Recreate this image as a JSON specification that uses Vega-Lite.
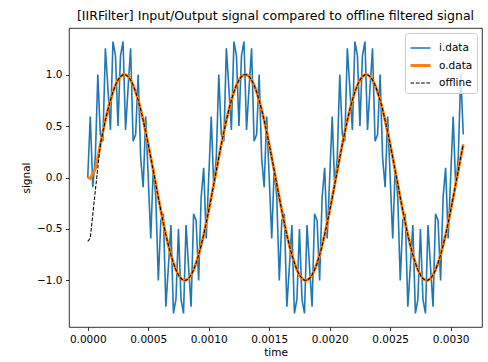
{
  "$schema": "https://vega.github.io/schema/vega-lite/v6.json",
  "width": 413,
  "height": 299,
  "autosize": {"type": "none"},
  "padding": {"left": 69, "top": 28, "right": 6, "bottom": 35},
  "background": "white",
  "title": {"text": "[IIRFilter] Input/Output signal compared to offline filtered signal", "font": "DejaVu Sans", "fontSize": 12.5, "fontWeight": "normal", "color": "black", "anchor": "middle", "offset": 6},
  "config": {
    "font": "DejaVu Sans",
    "view": {"stroke": "black", "strokeWidth": 0.8},
    "axis": {"grid": false, "domain": false, "tickColor": "black", "tickSize": 3.5, "tickWidth": 0.8, "labelColor": "black", "labelFontSize": 10.5, "labelFont": "DejaVu Sans", "labelPadding": 3.5, "titleFont": "DejaVu Sans", "titleFontSize": 10.5, "titleFontWeight": "normal", "titleColor": "black"}
  },
  "data": {"values": [
    {"t":0,"i":0,"o":0,"f":-0.62},
    {"t":0.0000208,"i":0.593,"o":-0.01,"f":-0.59},
    {"t":0.0000417,"i":-0.095,"o":0.04,"f":-0.36},
    {"t":0.0000625,"i":0.191,"o":0.08,"f":-0.13},
    {"t":0.0000833,"i":1.0,"o":0.195,"f":0.1},
    {"t":0.0001042,"i":0.417,"o":0.321,"f":0.321},
    {"t":0.000125,"i":0.353,"o":0.442,"f":0.442},
    {"t":0.0001458,"i":1.255,"o":0.556,"f":0.556},
    {"t":0.0001667,"i":0.866,"o":0.659,"f":0.659},
    {"t":0.0001875,"i":0.462,"o":0.752,"f":0.752},
    {"t":0.0002083,"i":1.32,"o":0.831,"f":0.831},
    {"t":0.0002292,"i":1.183,"o":0.897,"f":0.897},
    {"t":0.00025,"i":0.5,"o":0.947,"f":0.947},
    {"t":0.0002708,"i":1.183,"o":0.981,"f":0.981},
    {"t":0.0002917,"i":1.32,"o":0.998,"f":0.998},
    {"t":0.0003125,"i":0.462,"o":0.998,"f":0.998},
    {"t":0.0003333,"i":0.866,"o":0.981,"f":0.981},
    {"t":0.0003542,"i":1.255,"o":0.947,"f":0.947},
    {"t":0.000375,"i":0.353,"o":0.897,"f":0.897},
    {"t":0.0003958,"i":0.417,"o":0.831,"f":0.831},
    {"t":0.0004167,"i":1.0,"o":0.752,"f":0.752},
    {"t":0.0004375,"i":0.191,"o":0.659,"f":0.659},
    {"t":0.0004583,"i":-0.095,"o":0.556,"f":0.556},
    {"t":0.0004792,"i":0.593,"o":0.442,"f":0.442},
    {"t":0.0005,"i":0,"o":0.321,"f":0.321},
    {"t":0.0005208,"i":-0.593,"o":0.195,"f":0.195},
    {"t":0.0005417,"i":0.095,"o":0.065,"f":0.065},
    {"t":0.0005625,"i":-0.191,"o":-0.065,"f":-0.065},
    {"t":0.0005833,"i":-1.0,"o":-0.195,"f":-0.195},
    {"t":0.0006042,"i":-0.417,"o":-0.321,"f":-0.321},
    {"t":0.000625,"i":-0.353,"o":-0.442,"f":-0.442},
    {"t":0.0006458,"i":-1.255,"o":-0.556,"f":-0.556},
    {"t":0.0006667,"i":-0.866,"o":-0.659,"f":-0.659},
    {"t":0.0006875,"i":-0.462,"o":-0.752,"f":-0.752},
    {"t":0.0007083,"i":-1.32,"o":-0.831,"f":-0.831},
    {"t":0.0007292,"i":-1.183,"o":-0.897,"f":-0.897},
    {"t":0.00075,"i":-0.5,"o":-0.947,"f":-0.947},
    {"t":0.0007708,"i":-1.183,"o":-0.981,"f":-0.981},
    {"t":0.0007917,"i":-1.32,"o":-0.998,"f":-0.998},
    {"t":0.0008125,"i":-0.462,"o":-0.998,"f":-0.998},
    {"t":0.0008333,"i":-0.866,"o":-0.981,"f":-0.981},
    {"t":0.0008542,"i":-1.255,"o":-0.947,"f":-0.947},
    {"t":0.000875,"i":-0.353,"o":-0.897,"f":-0.897},
    {"t":0.0008958,"i":-0.417,"o":-0.831,"f":-0.831},
    {"t":0.0009167,"i":-1.0,"o":-0.752,"f":-0.752},
    {"t":0.0009375,"i":-0.191,"o":-0.659,"f":-0.659},
    {"t":0.0009583,"i":0.095,"o":-0.556,"f":-0.556},
    {"t":0.0009792,"i":-0.593,"o":-0.442,"f":-0.442},
    {"t":0.001,"i":0,"o":-0.321,"f":-0.321},
    {"t":0.0010208,"i":0.593,"o":-0.195,"f":-0.195},
    {"t":0.0010417,"i":-0.095,"o":-0.065,"f":-0.065},
    {"t":0.0010625,"i":0.191,"o":0.065,"f":0.065},
    {"t":0.0010833,"i":1.0,"o":0.195,"f":0.195},
    {"t":0.0011042,"i":0.417,"o":0.321,"f":0.321},
    {"t":0.001125,"i":0.353,"o":0.442,"f":0.442},
    {"t":0.0011458,"i":1.255,"o":0.556,"f":0.556},
    {"t":0.0011667,"i":0.866,"o":0.659,"f":0.659},
    {"t":0.0011875,"i":0.462,"o":0.752,"f":0.752},
    {"t":0.0012083,"i":1.32,"o":0.831,"f":0.831},
    {"t":0.0012292,"i":1.183,"o":0.897,"f":0.897},
    {"t":0.00125,"i":0.5,"o":0.947,"f":0.947},
    {"t":0.0012708,"i":1.183,"o":0.981,"f":0.981},
    {"t":0.0012917,"i":1.32,"o":0.998,"f":0.998},
    {"t":0.0013125,"i":0.462,"o":0.998,"f":0.998},
    {"t":0.0013333,"i":0.866,"o":0.981,"f":0.981},
    {"t":0.0013542,"i":1.255,"o":0.947,"f":0.947},
    {"t":0.001375,"i":0.353,"o":0.897,"f":0.897},
    {"t":0.0013958,"i":0.417,"o":0.831,"f":0.831},
    {"t":0.0014167,"i":1.0,"o":0.752,"f":0.752},
    {"t":0.0014375,"i":0.191,"o":0.659,"f":0.659},
    {"t":0.0014583,"i":-0.095,"o":0.556,"f":0.556},
    {"t":0.0014792,"i":0.593,"o":0.442,"f":0.442},
    {"t":0.0015,"i":0,"o":0.321,"f":0.321},
    {"t":0.0015208,"i":-0.593,"o":0.195,"f":0.195},
    {"t":0.0015417,"i":0.095,"o":0.065,"f":0.065},
    {"t":0.0015625,"i":-0.191,"o":-0.065,"f":-0.065},
    {"t":0.0015833,"i":-1.0,"o":-0.195,"f":-0.195},
    {"t":0.0016042,"i":-0.417,"o":-0.321,"f":-0.321},
    {"t":0.001625,"i":-0.353,"o":-0.442,"f":-0.442},
    {"t":0.0016458,"i":-1.255,"o":-0.556,"f":-0.556},
    {"t":0.0016667,"i":-0.866,"o":-0.659,"f":-0.659},
    {"t":0.0016875,"i":-0.462,"o":-0.752,"f":-0.752},
    {"t":0.0017083,"i":-1.32,"o":-0.831,"f":-0.831},
    {"t":0.0017292,"i":-1.183,"o":-0.897,"f":-0.897},
    {"t":0.00175,"i":-0.5,"o":-0.947,"f":-0.947},
    {"t":0.0017708,"i":-1.183,"o":-0.981,"f":-0.981},
    {"t":0.0017917,"i":-1.32,"o":-0.998,"f":-0.998},
    {"t":0.0018125,"i":-0.462,"o":-0.998,"f":-0.998},
    {"t":0.0018333,"i":-0.866,"o":-0.981,"f":-0.981},
    {"t":0.0018542,"i":-1.255,"o":-0.947,"f":-0.947},
    {"t":0.001875,"i":-0.353,"o":-0.897,"f":-0.897},
    {"t":0.0018958,"i":-0.417,"o":-0.831,"f":-0.831},
    {"t":0.0019167,"i":-1.0,"o":-0.752,"f":-0.752},
    {"t":0.0019375,"i":-0.191,"o":-0.659,"f":-0.659},
    {"t":0.0019583,"i":0.095,"o":-0.556,"f":-0.556},
    {"t":0.0019792,"i":-0.593,"o":-0.442,"f":-0.442},
    {"t":0.002,"i":0,"o":-0.321,"f":-0.321},
    {"t":0.0020208,"i":0.593,"o":-0.195,"f":-0.195},
    {"t":0.0020417,"i":-0.095,"o":-0.065,"f":-0.065},
    {"t":0.0020625,"i":0.191,"o":0.065,"f":0.065},
    {"t":0.0020833,"i":1.0,"o":0.195,"f":0.195},
    {"t":0.0021042,"i":0.417,"o":0.321,"f":0.321},
    {"t":0.002125,"i":0.353,"o":0.442,"f":0.442},
    {"t":0.0021458,"i":1.255,"o":0.556,"f":0.556},
    {"t":0.0021667,"i":0.866,"o":0.659,"f":0.659},
    {"t":0.0021875,"i":0.462,"o":0.752,"f":0.752},
    {"t":0.0022083,"i":1.32,"o":0.831,"f":0.831},
    {"t":0.0022292,"i":1.183,"o":0.897,"f":0.897},
    {"t":0.00225,"i":0.5,"o":0.947,"f":0.947},
    {"t":0.0022708,"i":1.183,"o":0.981,"f":0.981},
    {"t":0.0022917,"i":1.32,"o":0.998,"f":0.998},
    {"t":0.0023125,"i":0.462,"o":0.998,"f":0.998},
    {"t":0.0023333,"i":0.866,"o":0.981,"f":0.981},
    {"t":0.0023542,"i":1.255,"o":0.947,"f":0.947},
    {"t":0.002375,"i":0.353,"o":0.897,"f":0.897},
    {"t":0.0023958,"i":0.417,"o":0.831,"f":0.831},
    {"t":0.0024167,"i":1.0,"o":0.752,"f":0.752},
    {"t":0.0024375,"i":0.191,"o":0.659,"f":0.659},
    {"t":0.0024583,"i":-0.095,"o":0.556,"f":0.556},
    {"t":0.0024792,"i":0.593,"o":0.442,"f":0.442},
    {"t":0.0025,"i":0,"o":0.321,"f":0.321},
    {"t":0.0025208,"i":-0.593,"o":0.195,"f":0.195},
    {"t":0.0025417,"i":0.095,"o":0.065,"f":0.065},
    {"t":0.0025625,"i":-0.191,"o":-0.065,"f":-0.065},
    {"t":0.0025833,"i":-1.0,"o":-0.195,"f":-0.195},
    {"t":0.0026042,"i":-0.417,"o":-0.321,"f":-0.321},
    {"t":0.002625,"i":-0.353,"o":-0.442,"f":-0.442},
    {"t":0.0026458,"i":-1.255,"o":-0.556,"f":-0.556},
    {"t":0.0026667,"i":-0.866,"o":-0.659,"f":-0.659},
    {"t":0.0026875,"i":-0.462,"o":-0.752,"f":-0.752},
    {"t":0.0027083,"i":-1.32,"o":-0.831,"f":-0.831},
    {"t":0.0027292,"i":-1.183,"o":-0.897,"f":-0.897},
    {"t":0.00275,"i":-0.5,"o":-0.947,"f":-0.947},
    {"t":0.0027708,"i":-1.183,"o":-0.981,"f":-0.981},
    {"t":0.0027917,"i":-1.32,"o":-0.998,"f":-0.998},
    {"t":0.0028125,"i":-0.462,"o":-0.998,"f":-0.998},
    {"t":0.0028333,"i":-0.866,"o":-0.981,"f":-0.981},
    {"t":0.0028542,"i":-1.255,"o":-0.947,"f":-0.947},
    {"t":0.002875,"i":-0.353,"o":-0.897,"f":-0.897},
    {"t":0.0028958,"i":-0.417,"o":-0.831,"f":-0.831},
    {"t":0.0029167,"i":-1.0,"o":-0.752,"f":-0.752},
    {"t":0.0029375,"i":-0.191,"o":-0.659,"f":-0.659},
    {"t":0.0029583,"i":0.095,"o":-0.556,"f":-0.556},
    {"t":0.0029792,"i":-0.593,"o":-0.442,"f":-0.442},
    {"t":0.003,"i":0,"o":-0.321,"f":-0.321},
    {"t":0.0030208,"i":0.593,"o":-0.195,"f":-0.195},
    {"t":0.0030417,"i":-0.095,"o":-0.065,"f":-0.065},
    {"t":0.0030625,"i":0.191,"o":0.065,"f":0.065},
    {"t":0.0030833,"i":1.0,"o":0.195,"f":0.195},
    {"t":0.0031042,"i":0.417,"o":0.321,"f":0.321}
  ]},
  "transform": [{"fold": ["i", "o", "f"], "as": ["series", "value"]}],
  "mark": {"type": "line", "clip": true},
  "encoding": {
    "x": {"field": "t", "type": "quantitative", "title": "time",
      "scale": {"domain": [-0.000155, 0.003259], "nice": false, "zero": false},
      "axis": {"values": [0, 0.0005, 0.001, 0.0015, 0.002, 0.0025, 0.003], "format": ".4f", "titlePadding": 3}},
    "y": {"field": "value", "type": "quantitative", "title": "signal",
      "scale": {"domain": [-1.452, 1.452], "nice": false, "zero": false},
      "axis": {"values": [-1, -0.5, 0, 0.5, 1], "format": ".1f", "titlePadding": 5}},
    "color": {"field": "series", "type": "nominal",
      "scale": {"domain": ["i", "o", "f"], "range": ["#1f77b4", "#ff7f0e", "#000000"]},
      "legend": {"title": null, "orient": "top-right", "offset": 5, "labelExpr": "datum.label == 'i' ? 'i.data' : datum.label == 'o' ? 'o.data' : 'offline'", "labelFontSize": 10.5, "labelFont": "DejaVu Sans", "labelColor": "black", "symbolType": "stroke", "symbolSize": 400, "fillColor": "rgba(255,255,255,0.8)", "strokeColor": "#cccccc", "cornerRadius": 3, "padding": 4, "rowPadding": 0, "labelOffset": 7}},
    "strokeDash": {"field": "series", "type": "nominal",
      "scale": {"domain": ["i", "o", "f"], "range": [[1, 0], [1, 0], [3.7, 1.6]]}},
    "strokeWidth": {"field": "series", "type": "nominal",
      "scale": {"type": "ordinal", "domain": ["i", "o", "f"], "range": [1.6, 2.9, 1.05]}}
  }
}
